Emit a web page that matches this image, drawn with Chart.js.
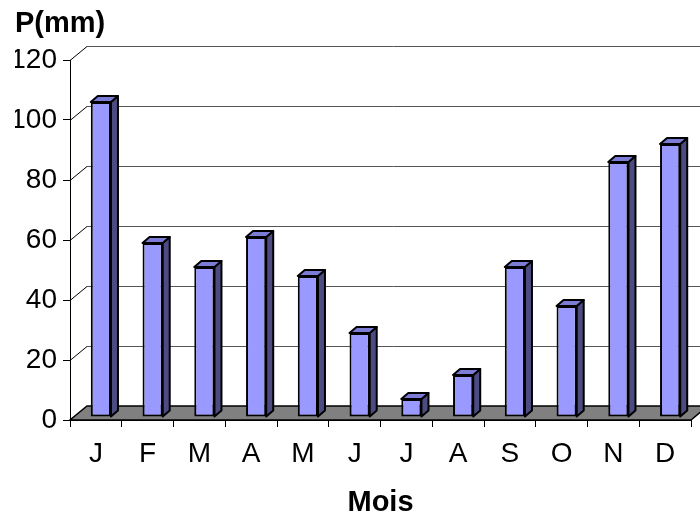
<!DOCTYPE html>
<html>
<head>
<meta charset="utf-8">
<script src="https://cdn.jsdelivr.net/npm/chart.js@4.4.1/dist/chart.umd.min.js"></script>
<style>
  html, body { margin: 0; padding: 0; background: #fff; }
  #wrap { width: 700px; height: 517px; }
</style>
</head>
<body>
<div id="wrap"><canvas id="rainChart"></canvas></div>
<script>
// Monthly rainfall data
const months = ['J', 'F', 'M', 'A', 'M', 'J', 'J', 'A', 'S', 'O', 'N', 'D'];
const rainfall = [105, 58, 50, 60, 47, 28, 6, 14, 50, 37, 85, 91];
const yTicks = [0, 20, 40, 60, 80, 100, 120];

const FONT = "'Liberation Sans', Arial, sans-serif";

// 3D look: offset of the back wall, of the bars' front face, and bar depth
const wallDx = 17, wallDy = -14;
const barShiftX = 5, barShiftY = -3;
const barDx = 7, barDy = -6;

const box3d = {
    id: 'box3d',
    beforeDatasetsDraw(chart) {
        const { ctx, chartArea: { left, right, bottom }, scales: { y } } = chart;
        ctx.save();
        // back wall grid lines and the diagonals on the left wall
        yTicks.forEach(v => {
            const py = Math.round(y.getPixelForValue(v));
            ctx.lineWidth = 1;
            ctx.strokeStyle = '#555';
            ctx.beginPath();
            ctx.moveTo(left + wallDx, py + wallDy + 0.5);
            ctx.lineTo(chart.width, py + wallDy + 0.5);
            ctx.stroke();
            ctx.strokeStyle = '#000';
            ctx.beginPath();
            ctx.moveTo(left, py + 0.5);
            ctx.lineTo(left + wallDx, py + wallDy + 0.5);
            ctx.stroke();
        });
        // grey floor
        ctx.fillStyle = '#808080';
        ctx.strokeStyle = '#000';
        ctx.lineWidth = 1.5;
        ctx.beginPath();
        ctx.moveTo(left, bottom);
        ctx.lineTo(right, bottom);
        ctx.lineTo(right + wallDx, bottom + wallDy);
        ctx.lineTo(left + wallDx, bottom + wallDy);
        ctx.closePath();
        ctx.fill();
        ctx.stroke();
        ctx.restore();

        // bars sit a bit behind the front axis
        ctx.save();
        ctx.translate(barShiftX, barShiftY);
    },
    afterDatasetsDraw(chart) {
        const { ctx } = chart;
        chart.getDatasetMeta(0).data.forEach(bar => {
            const { x, y, base, width } = bar.getProps(['x', 'y', 'base', 'width'], true);
            const l = x - width / 2, r = x + width / 2;
            ctx.lineWidth = 2;
            ctx.strokeStyle = '#000';
            ctx.lineJoin = 'round';
            // side face
            ctx.fillStyle = '#4c4c82';
            ctx.beginPath();
            ctx.moveTo(r, y);
            ctx.lineTo(r + barDx, y + barDy);
            ctx.lineTo(r + barDx, base + barDy);
            ctx.lineTo(r, base);
            ctx.closePath();
            ctx.fill();
            ctx.stroke();
            // top face
            ctx.fillStyle = '#7c7cd6';
            ctx.beginPath();
            ctx.moveTo(l, y);
            ctx.lineTo(l + barDx, y + barDy);
            ctx.lineTo(r + barDx, y + barDy);
            ctx.lineTo(r, y);
            ctx.closePath();
            ctx.fill();
            ctx.stroke();
        });
        ctx.restore();
    }
};

const ctx = document.getElementById('rainChart').getContext('2d');

const rainChart = new Chart(ctx, {
    type: 'bar',
    data: {
        labels: months,
        datasets: [{
            label: 'P(mm)',
            data: rainfall,
            backgroundColor: '#9999ff',
            borderColor: '#000',
            borderWidth: 2,
            borderSkipped: false,
            barPercentage: 0.39,
            categoryPercentage: 1
        }]
    },
    options: {
        responsive: true,
        maintainAspectRatio: false,
        animation: false,
        layout: {
            padding: { left: 15, right: 9, top: 0, bottom: 0 }
        },
        plugins: {
            legend: { display: false },
            tooltip: { enabled: false },
            title: {
                display: true,
                text: 'P(mm)',
                align: 'start',
                color: '#000',
                font: { family: FONT, size: 29, weight: 'bold', lineHeight: 1 },
                padding: { top: 9, bottom: 22 }
            }
        },
        scales: {
            x: {
                grid: { offset: true, drawOnChartArea: false, color: '#000', tickLength: 7 },
                border: { color: '#000' },
                ticks: { color: '#000', padding: 10, font: { family: FONT, size: 28 } },
                title: {
                    display: true,
                    text: 'Mois',
                    color: '#000',
                    font: { family: FONT, size: 29, weight: 'bold', lineHeight: 1 },
                    padding: { top: 0, bottom: 0 }
                },
                afterFit: scale => { scale.height = 97; }
            },
            y: {
                min: 0,
                max: 120,
                grid: { drawOnChartArea: false, color: '#000', tickLength: 7 },
                border: { color: '#000' },
                ticks: {
                    stepSize: 20,
                    color: '#000',
                    padding: 6,
                    font: { family: FONT, size: 28 }
                },
                afterFit: scale => { scale.width = 55; }
            }
        }
    },
    plugins: [box3d]
});
</script>
</body>
</html>
